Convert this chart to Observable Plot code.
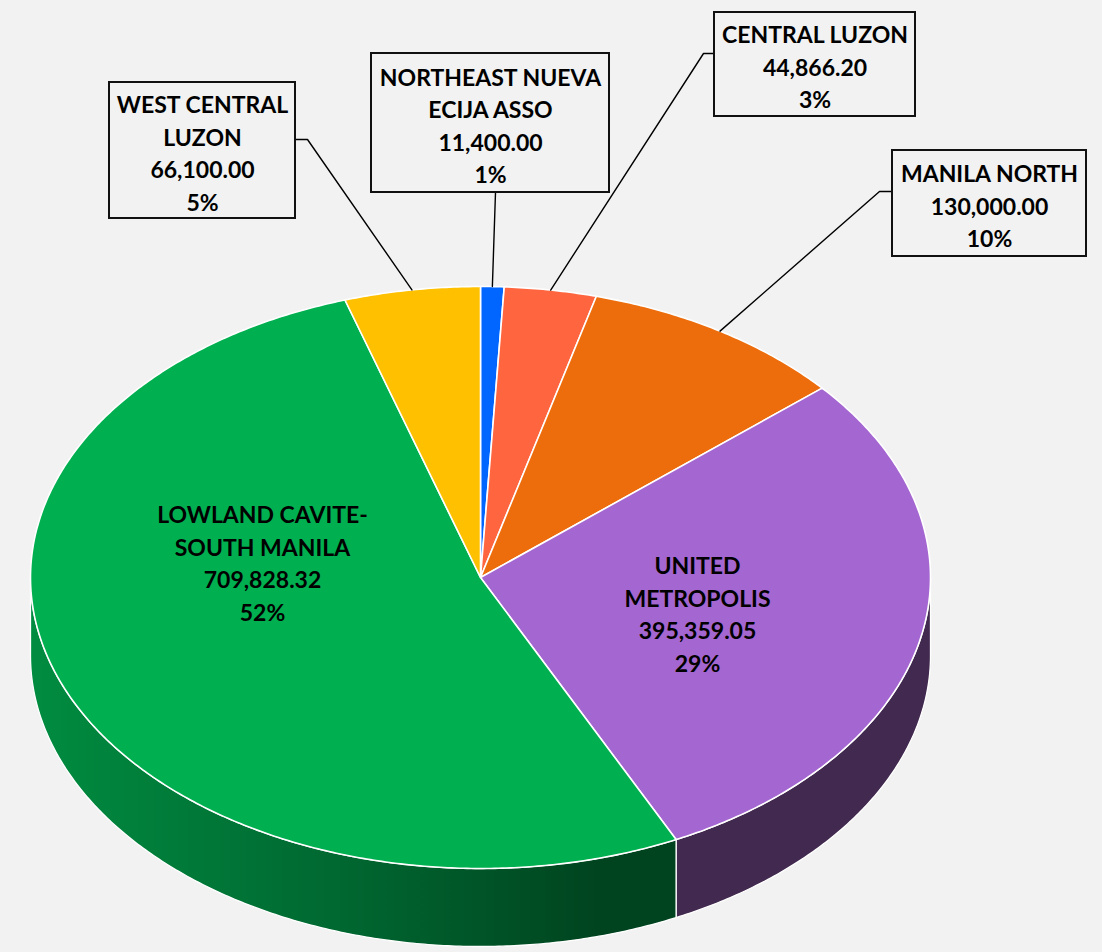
<!DOCTYPE html>
<html>
<head>
<meta charset="utf-8">
<script src="https://cdn.jsdelivr.net/npm/d3@7"></script>
<script src="https://cdn.jsdelivr.net/npm/@observablehq/plot@0.6"></script>
<style>
  html, body { margin: 0; padding: 0; background: #f2f2f2; overflow: hidden; }
  #chart svg { display: block; }
</style>
</head>
<body>
<div id="chart"></div>
<script>
// ---------- data (clockwise from 12 o'clock) ----------
const regions = [
  "NORTHEAST NUEVA ECIJA ASSO",
  "CENTRAL LUZON",
  "MANILA NORTH",
  "UNITED METROPOLIS",
  "LOWLAND CAVITE-SOUTH MANILA",
  "WEST CENTRAL LUZON"
];
const regionLabels = [
  "NORTHEAST NUEVA\nECIJA ASSO",
  "CENTRAL LUZON",
  "MANILA NORTH",
  "UNITED\nMETROPOLIS",
  "LOWLAND CAVITE-\nSOUTH MANILA",
  "WEST CENTRAL\nLUZON"
];
const amounts = [11400.00, 44866.20, 130000.00, 395359.05, 709828.32, 66100.00];

// ---------- styles ----------
const topColors  = ["#0066ff", "#ff6640", "#ed6d0c", "#a466d0", "#00b050", "#ffc000"];
const sideColors = ["#0047b3", "#b3472d", "#a64c08", "#42294f", "url(#greenSide)", "#b38600"];

// ---------- layout ----------
const W = 1102, H = 952;
const cx = 480, cy = 577, rx = 450, ry = 291, depth = 78;
// label placement: boxed callouts (box + leader elbow) or inside text anchor
const labelLayout = [
  {box: [371, 53, 609, 192], elbow: [[495, 192]]},
  {box: [714, 12, 915, 116], elbow: [[714, 53], [703, 53]]},
  {box: [892, 150, 1086, 256], elbow: [[892, 191], [879, 191]]},
  {inside: [697, 612]},
  {inside: [262, 561]},
  {box: [109, 82, 295, 218], elbow: [[295, 139], [307, 139]]}
];

// ---------- geometry from data ----------
const total = d3.sum(amounts);
const fmt = d3.format(",.2f");
const arcs = d3.pie().sort(null).startAngle(0).endAngle(2 * Math.PI)(amounts);
const pt = (a, dz = 0) => ({x: cx + rx * Math.sin(a), y: cy - ry * Math.cos(a) + dz});
const arcPts = (a0, a1, dz = 0) => {
  const n = Math.max(2, Math.ceil((a1 - a0) / (Math.PI / 360)));
  return d3.range(n + 1).map(i => pt(a0 + (a1 - a0) * i / n, dz));
};

const topRows = [], sideRows = [], leaderRows = [], boxRows = [], textRows = [];
arcs.forEach((a, i) => {
  const name = regions[i];
  // top face
  [{x: cx, y: cy}, ...arcPts(a.startAngle, a.endAngle)].forEach(p =>
    topRows.push({name, x: p.x, y: p.y, fill: topColors[i]}));
  // visible side wall (front half: angles between 90° and 270°)
  const s = Math.max(a.startAngle, Math.PI / 2), e = Math.min(a.endAngle, 3 * Math.PI / 2);
  if (e > s) {
    [...arcPts(s, e), ...arcPts(s, e, depth).reverse()].forEach(p =>
      sideRows.push({name, x: p.x, y: p.y, fill: sideColors[i]}));
  }
  const text = `${regionLabels[i]}\n${fmt(amounts[i])}\n${Math.round(amounts[i] / total * 100)}%`;
  const L = labelLayout[i];
  if (L.box) {
    const [x1, y1, x2, y2] = L.box;
    boxRows.push({name, x1, y1, x2, y2});
    textRows.push({name, text, x: (x1 + x2) / 2, y: (y1 + y2) / 2 + 1});
    const mid = pt((a.startAngle + a.endAngle) / 2);
    [...L.elbow.map(([x, y]) => ({x, y})), mid].forEach(p =>
      leaderRows.push({name, x: p.x, y: p.y}));
  } else {
    textRows.push({name, text, x: L.inside[0], y: L.inside[1]});
  }
});

const chart = Plot.plot({
  width: W,
  height: H,
  margin: 0,
  style: {background: "#f2f2f2"},
  x: {domain: [0, W], range: [0, W], axis: null},
  y: {domain: [0, H], range: [0, H], axis: null},
  color: {type: "identity"},
  marks: [
    Plot.line(sideRows, {x: "x", y: "y", z: "name", fill: "fill", stroke: "#ffffff",
      strokeWidth: 1.3, strokeLinejoin: "round", curve: "linear-closed"}),
    Plot.line(topRows, {x: "x", y: "y", z: "name", fill: "fill", stroke: "#ffffff",
      strokeWidth: 1.6, strokeLinejoin: "round", curve: "linear-closed"}),
    Plot.line(leaderRows, {x: "x", y: "y", z: "name", stroke: "#000000", strokeWidth: 1.4}),
    Plot.rect(boxRows, {x1: "x1", x2: "x2", y1: "y1", y2: "y2", fill: "#f2f2f2",
      stroke: "#111111", strokeWidth: 2}),
    Plot.text(textRows, {x: "x", y: "y", text: "text", fontSize: 23, fontWeight: "bold",
      fontFamily: "Lato, 'Open Sans', sans-serif", lineHeight: 1.41, lineAnchor: "middle",
      fill: "#000000"})
  ]
});

// gradient for the shaded green side wall
const defs = d3.select(chart).insert("defs", ":first-child");
const g = defs.append("linearGradient").attr("id", "greenSide")
  .attr("x1", "0").attr("y1", "0").attr("x2", "1").attr("y2", "0");
g.append("stop").attr("offset", "0").attr("stop-color", "#008c40");
g.append("stop").attr("offset", "0.5").attr("stop-color", "#006630");
g.append("stop").attr("offset", "0.88").attr("stop-color", "#00441f");
g.append("stop").attr("offset", "1").attr("stop-color", "#00441f");

document.getElementById("chart").appendChild(chart);
</script>
</body>
</html>
